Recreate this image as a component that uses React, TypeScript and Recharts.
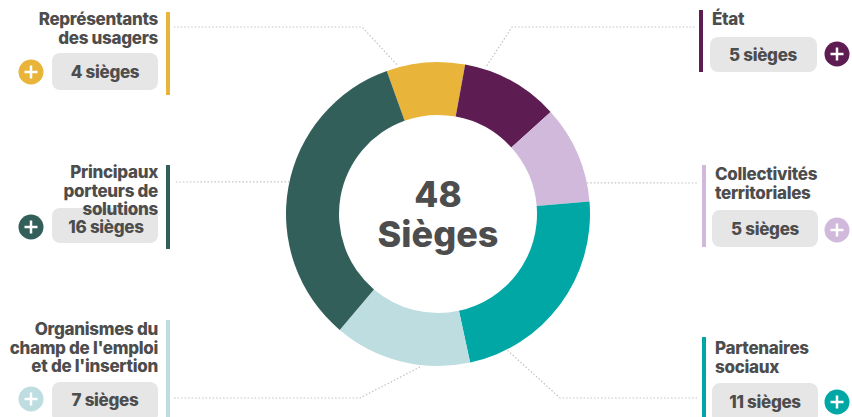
import React from 'react';
import { PieChart, Pie, Cell } from 'recharts';

const categories = [
  'Représentants des usagers',
  'État',
  'Collectivités territoriales',
  'Partenaires sociaux',
  "Organismes du champ de l'emploi et de l'insertion",
  'Principaux porteurs de solutions',
];
const seats = [4, 5, 5, 11, 7, 16];
const seatLabels = ['4 sièges', '5 sièges', '5 sièges', '11 sièges', '7 sièges', '16 sièges'];
const titleLines = [
  ['Représentants', 'des usagers'],
  ['État'],
  ['Collectivités', 'territoriales'],
  ['Partenaires', 'sociaux'],
  ['Organismes du', "champ de l'emploi", "et de l'insertion"],
  ['Principaux', 'porteurs de', 'solutions'],
];
const centerWord = 'Sièges';
const colors = ['#E8B43A', '#5D1D53', '#D0B9DA', '#00A7A5', '#BDDDE0', '#335F5B'];

const data = categories.map((name, i) => ({ name, value: seats[i] }));
const total = seats.reduce((a, b) => a + b, 0);

const W = 852;
const H = 417;
const FONT = 'Inter, "Noto Sans", sans-serif';
const TEXT = '#4d4d4d';
const PILL = '#E6E6E6';
const LINE = '#c2c2c2';

type Layout = {
  side: 'left' | 'right';
  barX: number; barY1: number; barY2: number;
  textX: number; titleY: number;
  pillX: number; pillY: number; pillW: number; pillH: number; pillTextX: number; pillTextY: number;
  plusX: number; plusY: number;
  angle: number; rOff: number; points: [number, number][];
};

const layouts: Layout[] = [
  { side: 'left', barX: 166, barY1: 12, barY2: 95, textX: 158, titleY: 25,
    pillX: 52, pillY: 53, pillW: 106, pillH: 37, pillTextX: 105, pillTextY: 72, plusX: 31, plusY: 72,
    angle: -15.4, rOff: 3, points: [[362, 27], [174, 27]] },
  { side: 'right', barX: 699, barY1: 10, barY2: 72, textX: 712, titleY: 25,
    pillX: 710, pillY: 37, pillW: 107, pillH: 35, pillTextX: 763, pillTextY: 55, plusX: 837, plusY: 54,
    angle: 18.2, rOff: 4, points: [[512, 27], [697, 27]] },
  { side: 'right', barX: 702, barY1: 165, barY2: 247, textX: 715, titleY: 180,
    pillX: 712, pillY: 210, pillW: 106, pillH: 37, pillTextX: 765, pillTextY: 229, plusX: 837, plusY: 230,
    angle: 78.2, rOff: 0, points: [[698, 183]] },
  { side: 'right', barX: 702, barY1: 337, barY2: 417, textX: 715, titleY: 354,
    pillX: 712, pillY: 383, pillW: 106, pillH: 40, pillTextX: 765, pillTextY: 402, plusX: 837, plusY: 402,
    angle: 153, rOff: 1, points: [[560, 398], [698, 398]] },
  { side: 'left', barX: 166, barY1: 320, barY2: 417, textX: 158, titleY: 335,
    pillX: 52, pillY: 382, pillW: 106, pillH: 40, pillTextX: 105, pillTextY: 400, plusX: 31, plusY: 399,
    angle: 186.7, rOff: 2, points: [[360, 398], [174, 398]] },
  { side: 'left', barX: 166, barY1: 165, barY2: 249, textX: 158, titleY: 178,
    pillX: 52, pillY: 208, pillW: 106, pillH: 35, pillTextX: 106, pillTextY: 227, plusX: 31, plusY: 227,
    angle: -77.8, rOff: 0, points: [[174, 182]] },
];

const LINE_H = 18.5;
const LABEL_SIZE = 17;

const renderLabel = (props: any) => {
  const { cx, cy, outerRadius, index } = props;
  const L = layouts[index];
  const color = colors[index];
  const rad = (L.angle * Math.PI) / 180;
  const r = outerRadius + L.rOff;
  const sx = cx + r * Math.sin(rad);
  const sy = cy - r * Math.cos(rad);
  const pts = [[sx, sy], ...L.points].map((p) => p.join(',')).join(' ');
  const anchor = L.side === 'left' ? 'end' : 'start';
  const lines = titleLines[index];
  return (
    <g key={`lab-${index}`}>
      <polyline points={pts} fill="none" stroke={LINE} strokeWidth={1.2} strokeDasharray="1.5 2" />
      <rect x={L.barX} y={L.barY1} width={4} height={L.barY2 - L.barY1} fill={color} />
      <rect x={L.pillX} y={L.pillY} width={L.pillW} height={L.pillH} rx={8} ry={8} fill={PILL} />
      {lines.map((t, i) => (
        <text key={i} x={L.textX} y={L.titleY + i * LINE_H} textAnchor={anchor}
          fontFamily={FONT} fontWeight={800} fontSize={LABEL_SIZE} fill={TEXT} letterSpacing={-0.3}>
          {t}
        </text>
      ))}
      <text x={L.pillTextX} y={L.pillTextY} textAnchor="middle" dominantBaseline="central"
        fontFamily={FONT} fontWeight={800} fontSize={LABEL_SIZE} fill={TEXT} letterSpacing={-0.3}>
        {seatLabels[index]}
      </text>
      <circle cx={L.plusX} cy={L.plusY} r={12.5} fill={color} />
      <rect x={L.plusX - 6.5} y={L.plusY - 1.25} width={13} height={2.5} fill="#ffffff" />
      <rect x={L.plusX - 1.25} y={L.plusY - 6.5} width={2.5} height={13} fill="#ffffff" />
      {index === 0 && (
        <g>
          <text x={cx} y={cy - 7} textAnchor="middle" fontFamily={FONT} fontWeight={800}
            fontSize={35} fill={TEXT}>
            {String(total)}
          </text>
          <text x={cx} y={cy + 33} textAnchor="middle" fontFamily={FONT} fontWeight={800}
            fontSize={36} fill={TEXT}>
            {centerWord}
          </text>
        </g>
      )}
    </g>
  );
};

export default function App() {
  return (
    <div style={{ position: 'absolute', left: 0, top: 0, width: W, height: H, background: '#fff' }}>
      <PieChart width={W} height={H} margin={{ top: 0, right: 0, bottom: 0, left: 0 }}>
        <Pie
          data={data}
          dataKey="value"
          nameKey="name"
          cx={438}
          cy={214}
          innerRadius={99}
          outerRadius={152}
          startAngle={109.7}
          endAngle={-250.3}
          stroke="none"
          paddingAngle={0}
          label={renderLabel}
          labelLine={false}
          isAnimationActive={false}
        >
          {data.map((d, i) => (
            <Cell key={d.name} fill={colors[i]} />
          ))}
        </Pie>
      </PieChart>
    </div>
  );
}
